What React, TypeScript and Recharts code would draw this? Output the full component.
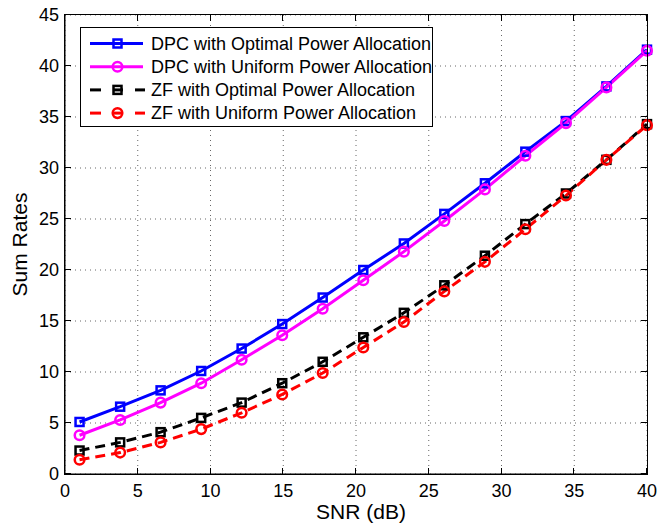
import React from 'react';
import { LineChart, Line, XAxis, YAxis, CartesianGrid, Legend, Label } from 'recharts';

const snr = [1, 3.79, 6.57, 9.36, 12.14, 14.93, 17.71, 20.5, 23.29, 26.07, 28.86, 31.64, 34.43, 37.21, 40];
const dpcOpt = [5.1, 6.6, 8.2, 10.1, 12.3, 14.7, 17.3, 20.0, 22.6, 25.5, 28.5, 31.6, 34.6, 38.0, 41.6];
const dpcUni = [3.8, 5.3, 7.0, 8.9, 11.2, 13.6, 16.2, 19.0, 21.8, 24.8, 27.9, 31.2, 34.4, 37.9, 41.5];
const zfOpt = [2.3, 3.1, 4.1, 5.5, 7.0, 8.9, 11.0, 13.4, 15.8, 18.5, 21.4, 24.5, 27.5, 30.8, 34.3];
const zfUni = [1.4, 2.1, 3.1, 4.4, 6.0, 7.8, 9.9, 12.4, 14.9, 17.9, 20.8, 24.0, 27.3, 30.8, 34.2];

const xTicks = [0, 5, 10, 15, 20, 25, 30, 35, 40];
const yTicks = [0, 5, 10, 15, 20, 25, 30, 35, 40, 45];

const seriesNames = [
  'DPC with Optimal Power Allocation',
  'DPC with Uniform Power Allocation',
  'ZF with Optimal Power Allocation',
  'ZF with Uniform Power Allocation',
];

const data = snr.map((x, i) => ({
  x,
  dpcOpt: dpcOpt[i],
  dpcUni: dpcUni[i],
  zfOpt: zfOpt[i],
  zfUni: zfUni[i],
}));

const FONT = '"Liberation Sans", Arial, Helvetica, sans-serif';
const TL = 6;

// layout of the plot area (matches the chart margins and axis sizes below)
const W = 657;
const H = 525;
const M = { top: 15, right: 10, bottom: 0, left: 0 };
const XAXIS_H = 51;
const YAXIS_W = 65;
const PL = M.left + YAXIS_W;
const PT = M.top;
const PW = W - M.right - PL;
const PH = H - M.bottom - XAXIS_H - PT;

const SquareDot = (color: string) => (props: any) => {
  const { cx, cy, index } = props;
  if (cx == null || cy == null) return <g key={index} />;
  return <rect key={index} x={cx - 4} y={cy - 4} width={8} height={8} fill="none" stroke={color} strokeWidth={2.5} />;
};
const CircleDot = (color: string) => (props: any) => {
  const { cx, cy, index } = props;
  if (cx == null || cy == null) return <g key={index} />;
  return <circle key={index} cx={cx} cy={cy} r={4.8} fill="none" stroke={color} strokeWidth={2.5} />;
};

const BottomTick = (props: any) => {
  const { x, y, payload } = props;
  return (
    <text x={x} y={y + 10} dy="0.71em" textAnchor="middle" fontSize={18} fontFamily={FONT} fill="#000">
      {payload.value}
    </text>
  );
};
const LeftTick = (props: any) => {
  const { x, y, payload } = props;
  return (
    <text x={x - 6} y={y} dy="0.355em" textAnchor="end" fontSize={18} fontFamily={FONT} fill="#000">
      {payload.value}
    </text>
  );
};

const XLabel = (props: any) => {
  const vb = props.viewBox || {};
  return (
    <text x={vb.x + vb.width / 2 + 5} y={519} textAnchor="middle" fontSize={21} fontFamily={FONT} fill="#000">
      SNR (dB)
    </text>
  );
};
const YLabel = (props: any) => {
  const vb = props.viewBox || {};
  const cy = vb.y + vb.height / 2;
  return (
    <text x={27} y={cy} transform={`rotate(-90 27 ${cy})`} textAnchor="middle" fontSize={21} fontFamily={FONT} fill="#000">
      Sum Rates
    </text>
  );
};

const legendStyles = [
  { color: '#0000ff', marker: 'square', dashed: false },
  { color: '#ff00ff', marker: 'circle', dashed: false },
  { color: '#000000', marker: 'square', dashed: true },
  { color: '#ff0000', marker: 'circle', dashed: true },
];

const LegendContent = () => (
  <div style={{ width: 351, height: 98, border: '1px solid #000', background: '#fff' }}>
    <svg width={351} height={98}>
      {seriesNames.map((name, i) => {
        const s = legendStyles[i];
        const cy = 15.5 + i * 23.2;
        return (
          <g key={name}>
            {s.dashed ? (
              <g>
                <line x1={9} x2={20} y1={cy} y2={cy} stroke={s.color} strokeWidth={3} />
                <line x1={54} x2={64} y1={cy} y2={cy} stroke={s.color} strokeWidth={3} />
                <line x1={33} x2={42} y1={cy} y2={cy} stroke={s.color} strokeWidth={3} />
              </g>
            ) : (
              <line x1={9} x2={62} y1={cy} y2={cy} stroke={s.color} strokeWidth={3} />
            )}
            {s.marker === 'square' ? (
              <rect x={32.5} y={cy - 4} width={8} height={8} fill="none" stroke={s.color} strokeWidth={2.5} />
            ) : (
              <circle cx={36.5} cy={cy} r={4.8} fill="none" stroke={s.color} strokeWidth={2.5} />
            )}
            <text x={70} y={cy} dy="0.355em" fontSize={18} fontFamily={FONT} fill="#000">
              {name}
            </text>
          </g>
        );
      })}
    </svg>
  </div>
);

// axes box with inward ticks on all four sides (MATLAB style)
const AxesBox = () => {
  const xs = xTicks.map((t) => Math.round(PL + (t / 40) * PW));
  const ys = yTicks.map((t) => Math.round(PT + PH - (t / 45) * PH));
  const tick = (k: string, left: number, top: number, w: number, h: number) => (
    <div key={k} style={{ position: 'absolute', left, top, width: w, height: h, background: '#000' }} />
  );
  return (
    <div style={{ position: 'absolute', left: 0, top: 0, width: W, height: H, pointerEvents: 'none' }}>
      <div
        style={{
          position: 'absolute',
          left: PL - 1,
          top: PT - 1,
          width: PW + 2,
          height: PH + 2,
          border: '1px solid #000',
          boxSizing: 'border-box',
        }}
      />
      {xs.map((x, i) => tick('b' + i, x - 1, PT + PH - TL, 1, TL))}
      {xs.map((x, i) => tick('t' + i, x - 1, PT, 1, TL))}
      {ys.map((y, i) => tick('l' + i, PL, y - 1, TL, 1))}
      {ys.map((y, i) => tick('r' + i, PL + PW - TL, y - 1, TL, 1))}
    </div>
  );
};

export default function App() {
  return (
    <div style={{ position: 'absolute', left: 0, top: 0, width: W, height: H, background: '#fff' }}>
      <LineChart width={W} height={H} data={data} margin={M}>
        <CartesianGrid stroke="#666" strokeDasharray="1 4" />
        <XAxis
          dataKey="x"
          type="number"
          domain={[0, 40]}
          ticks={xTicks}
          interval={0}
          height={XAXIS_H}
          tickSize={0}
          tickMargin={0}
          tickLine={false}
          axisLine={{ stroke: '#000', strokeWidth: 1 }}
          tick={BottomTick}
        >
          <Label content={XLabel} />
        </XAxis>
        <YAxis
          type="number"
          domain={[0, 45]}
          ticks={yTicks}
          interval={0}
          width={YAXIS_W}
          tickSize={0}
          tickMargin={0}
          tickLine={false}
          axisLine={{ stroke: '#000', strokeWidth: 1 }}
          tick={LeftTick}
        >
          <Label content={YLabel} />
        </YAxis>
        <Legend
          layout="vertical"
          align="center"
          verticalAlign="middle"
          content={LegendContent}
          wrapperStyle={{ left: 80, top: 27, width: 353, height: 100 }}
        />
        <Line type="linear" dataKey="dpcOpt" name={seriesNames[0]} stroke="#0000ff" strokeWidth={3} dot={SquareDot('#0000ff')} isAnimationActive={false} />
        <Line type="linear" dataKey="dpcUni" name={seriesNames[1]} stroke="#ff00ff" strokeWidth={3} dot={CircleDot('#ff00ff')} isAnimationActive={false} />
        <Line type="linear" dataKey="zfOpt" name={seriesNames[2]} stroke="#000000" strokeWidth={3} strokeDasharray="10 6" dot={SquareDot('#000000')} isAnimationActive={false} />
        <Line type="linear" dataKey="zfUni" name={seriesNames[3]} stroke="#ff0000" strokeWidth={3} strokeDasharray="10 6" dot={CircleDot('#ff0000')} isAnimationActive={false} />
      </LineChart>
      <AxesBox />
    </div>
  );
}
